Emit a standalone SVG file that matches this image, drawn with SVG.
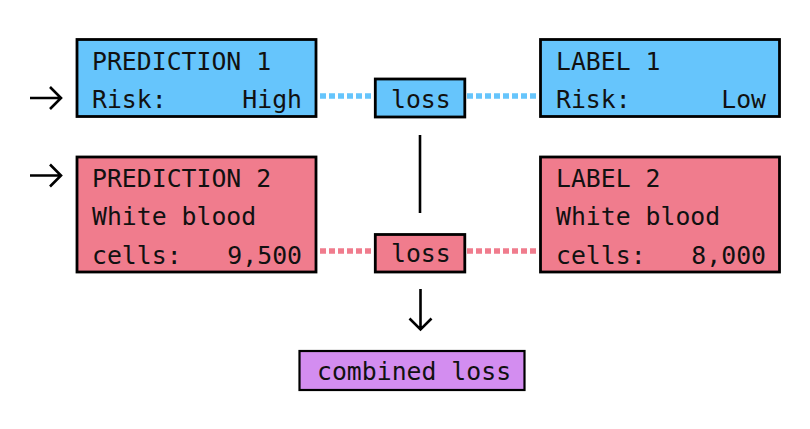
<svg xmlns="http://www.w3.org/2000/svg" width="810" height="429" viewBox="0 0 810 429">
<style>
.box{stroke:#000;stroke-width:2.8}
.blue{fill:#66c5fc}
.red{fill:#f07c8d}
.purple{fill:#d38df0}
.t{font-family:"DejaVu Sans Mono","Liberation Mono",monospace;font-size:24.8px;fill:#111}
.e{text-anchor:end}
.line{stroke:#000;stroke-width:2.6;fill:none}
.dotb{stroke:#66c5fc;stroke-width:5.5;stroke-dasharray:6 3;fill:none}
.dotr{stroke:#f07c8d;stroke-width:5.5;stroke-dasharray:6 3;fill:none}
</style>
<rect width="810" height="429" fill="#fff"/>
<g id="connectors">
<path class="dotb" d="M320 96H374"/>
<path class="dotb" d="M467 96H539"/>
<path class="dotr" d="M320 251H374"/>
<path class="dotr" d="M467 251H539"/>
<path class="line" d="M420 135V213"/>
<path class="line" d="M420.5 289V329M409.5 318.5L420.5 329.5L431.5 318.5"/>
<path class="line" d="M30 98H60M50 87L61 98L50 109"/>
<path class="line" d="M30 175.5H60M50 164.5L61 175.5L50 186.5"/>
</g>
<g id="prediction1">
<rect class="box blue" x="77" y="39.5" width="239" height="77"/>
<text class="t" x="92" y="69.5">PREDICTION 1</text>
<text class="t" x="92" y="107.5">Risk:</text>
<text class="t e" x="302" y="107.5">High</text>
</g>
<g id="label1">
<rect class="box blue" x="540.5" y="39.5" width="239" height="77"/>
<text class="t" x="556" y="69.5">LABEL 1</text>
<text class="t" x="556" y="107.5">Risk:</text>
<text class="t e" x="766" y="107.5">Low</text>
</g>
<g id="loss1">
<rect class="box blue" x="375.3" y="79" width="89.5" height="38"/>
<text class="t" x="391" y="107.5">loss</text>
</g>
<g id="prediction2">
<rect class="box red" x="77" y="157" width="239" height="115"/>
<text class="t" x="92" y="186.5">PREDICTION 2</text>
<text class="t" x="92" y="225">White blood</text>
<text class="t" x="92" y="263.5">cells:</text>
<text class="t e" x="302" y="263.5">9,500</text>
</g>
<g id="label2">
<rect class="box red" x="540.5" y="157" width="239" height="115"/>
<text class="t" x="556" y="186.5">LABEL 2</text>
<text class="t" x="556" y="225">White blood</text>
<text class="t" x="556" y="263.5">cells:</text>
<text class="t e" x="766" y="263.5">8,000</text>
</g>
<g id="loss2">
<rect class="box red" x="375.3" y="234.5" width="89.5" height="37.5"/>
<text class="t" x="391" y="262">loss</text>
</g>
<g id="combined">
<rect class="purple" x="299.5" y="351" width="225" height="39" stroke="#000" stroke-width="2.2"/>
<text class="t" x="317" y="379.5">combined loss</text>
</g>
</svg>
